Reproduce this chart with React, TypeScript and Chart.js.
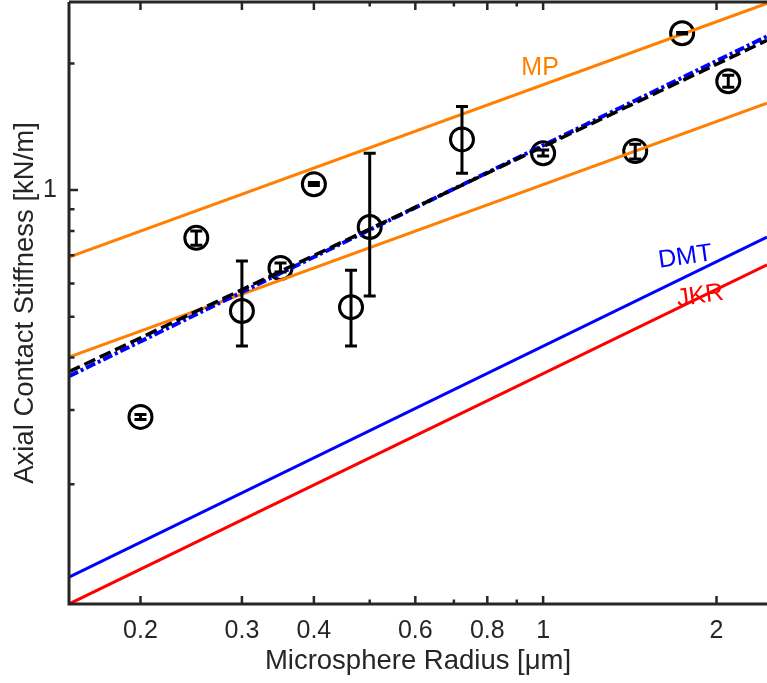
import React, { useEffect, useRef } from 'react';
import { Chart, registerables } from 'chart.js';
Chart.register(...registerables);

// ---- data ----
const radius = [0.2, 0.25, 0.3, 0.35, 0.4, 0.464, 0.5, 0.723, 1.0, 1.445, 1.743, 2.096];
const stiffness = [0.289, 0.77, 0.516, 0.653, 1.033, 0.527, 0.817, 1.32, 1.224, 1.238, 2.36, 1.815];
const errLow = [0.285, 0.74, 0.426, 0.639, 1.025, 0.426, 0.56, 1.097, 1.205, 1.185, 2.35, 1.757];
const errHigh = [0.293, 0.8, 0.678, 0.671, 1.043, 0.645, 1.224, 1.58, 1.245, 1.286, 2.37, 1.876];

const lineX = [0.1503, 2.447];
const mpUpper = [0.693, 2.78];
const mpLower = [0.401, 1.609];
const fitBlack = [0.37, 2.27];
const fitBlue = [0.361, 2.32];
const dmtLine = [0.1203, 0.773];
const jkrLine = [0.1038, 0.664];

const xTicks = [0.2, 0.3, 0.4, 0.5, 0.6, 0.7, 0.8, 0.9, 1, 2];
const xTickLabels = ['0.2', '0.3', '0.4', '', '0.6', '', '0.8', '', '1', '2'];
const yTicks = [0.2, 0.3, 0.4, 0.5, 0.6, 0.7, 0.8, 0.9, 1, 2];
const yTickLabels = ['', '', '', '', '', '', '', '', '1', ''];

const annoText = ['MP', 'DMT', 'JKR'];
const annoX = [0.988, 1.765, 1.873];
const annoY = [1.95, 0.693, 0.56];
const annoColor = ['#FF8000', '#0000FF', '#FF0000'];
const annoRot = [0, -8, -8];

const AXIS = '#262626';
const FONT = "'Liberation Sans', Arial, Helvetica, sans-serif";

const pts = (ys: number[]) => lineX.map((x, i) => ({ x, y: ys[i] }));

const errorBarPlugin = {
  id: 'errorBars',
  afterDatasetsDraw(chart: any) {
    const { ctx, scales } = chart;
    const xs = scales.x, ys = scales.y;
    ctx.save();
    ctx.strokeStyle = '#000';
    ctx.lineWidth = 3;
    ctx.lineCap = 'butt';
    radius.forEach((r, i) => {
      const px = xs.getPixelForValue(r);
      const yl = ys.getPixelForValue(errLow[i]);
      const yh = ys.getPixelForValue(errHigh[i]);
      ctx.beginPath();
      ctx.moveTo(px, yl);
      ctx.lineTo(px, yh);
      ctx.moveTo(px - 6, yl);
      ctx.lineTo(px + 6, yl);
      ctx.moveTo(px - 6, yh);
      ctx.lineTo(px + 6, yh);
      ctx.stroke();
    });
    ctx.restore();
  },
};

const axesPlugin = {
  id: 'matlabAxes',
  afterDraw(chart: any) {
    const { ctx, chartArea, scales } = chart;
    const { left, right, top, bottom } = chartArea;
    ctx.save();
    annoText.forEach((t, i) => {
      const px = scales.x.getPixelForValue(annoX[i]);
      const py = scales.y.getPixelForValue(annoY[i]);
      ctx.save();
      ctx.translate(px, py);
      ctx.rotate((annoRot[i] * Math.PI) / 180);
      ctx.fillStyle = annoColor[i];
      ctx.font = `25px ${FONT}`;
      ctx.textAlign = 'center';
      ctx.textBaseline = 'middle';
      ctx.fillText(t, 0, 0);
      ctx.restore();
    });
    ctx.strokeStyle = AXIS;
    ctx.lineWidth = 3;
    ctx.beginPath();
    ctx.moveTo(left, top);
    ctx.lineTo(left, bottom);
    ctx.lineTo(right, bottom);
    ctx.moveTo(left, top);
    ctx.lineTo(right, top);
    ctx.stroke();
    ctx.lineWidth = 2.5;
    ctx.beginPath();
    xTicks.forEach((v, i) => {
      const px = scales.x.getPixelForValue(v);
      const len = xTickLabels[i] ? 8 : 4.5;
      ctx.moveTo(px, bottom);
      ctx.lineTo(px, bottom - len);
      ctx.moveTo(px, top);
      ctx.lineTo(px, top + len);
    });
    yTicks.forEach((v, i) => {
      const py = scales.y.getPixelForValue(v);
      const len = yTickLabels[i] ? 9 : 5.5;
      ctx.moveTo(left, py);
      ctx.lineTo(left + len, py);
    });
    ctx.stroke();
    ctx.restore();
  },
};

const zeroPad = (s: any) => {
  s.paddingTop = 0;
  s.paddingBottom = 0;
  s.paddingLeft = 0;
  s.paddingRight = 0;
};

export default function App() {
  const ref = useRef<HTMLCanvasElement | null>(null);
  useEffect(() => {
    if (!ref.current) return;
    const lineDs = (data: number[], color: string, dash: number[] = [], w = 3) => ({
      type: 'line' as const,
      data: pts(data),
      borderColor: color,
      backgroundColor: color,
      borderWidth: w,
      borderDash: dash,
      borderCapStyle: 'butt',
      pointRadius: 0,
      showLine: true,
      fill: false,
    });
    const chart = new Chart(ref.current, {
      type: 'scatter',
      data: {
        datasets: [
          lineDs(fitBlack, '#000000', [12, 5], 3.5),
          lineDs(fitBlue, '#0000FF', [10, 3, 3, 3], 4),
          lineDs(mpUpper, '#FF8000'),
          lineDs(mpLower, '#FF8000'),
          lineDs(dmtLine, '#0000FF'),
          lineDs(jkrLine, '#FF0000'),
          {
            type: 'scatter' as const,
            data: radius.map((x, i) => ({ x, y: stiffness[i] })),
            pointStyle: 'circle',
            pointRadius: 11.5,
            pointBorderWidth: 3,
            borderColor: '#000',
            backgroundColor: 'rgba(0,0,0,0)',
            showLine: false,
          } as any,
        ],
      },
      options: {
        responsive: false,
        devicePixelRatio: 1,
        animation: false,
        layout: { autoPadding: false, padding: { top: 2, right: 0, left: 0, bottom: 0 } },
        plugins: { legend: { display: false }, tooltip: { enabled: false } },
        scales: {
          x: {
            type: 'logarithmic',
            min: lineX[0],
            max: lineX[1],
            grid: { display: false, drawTicks: false },
            border: { display: false },
            afterBuildTicks: (s: any) => {
              s.ticks = xTicks.map((v) => ({ value: v }));
            },
            afterFit: (s: any) => {
              s.height = 79;
              zeroPad(s);
            },
            ticks: {
              autoSkip: false,
              maxRotation: 0,
              padding: 12,
              color: AXIS,
              font: { family: FONT, size: 25 },
              callback: (_v: any, i: number) => xTickLabels[i],
            },
            title: {
              display: true,
              text: 'Microsphere Radius [μm]',
              color: AXIS,
              font: { family: FONT, size: 27.5 },
              padding: { top: 0, bottom: 5 },
            },
          },
          y: {
            type: 'logarithmic',
            min: jkrLine[0],
            max: 2.8,
            grid: { display: false, drawTicks: false },
            border: { display: false },
            afterBuildTicks: (s: any) => {
              s.ticks = yTicks.map((v) => ({ value: v }));
            },
            afterFit: (s: any) => {
              s.width = 69;
              zeroPad(s);
            },
            ticks: {
              autoSkip: false,
              padding: 12,
              color: AXIS,
              font: { family: FONT, size: 25 },
              callback: (_v: any, i: number) => yTickLabels[i],
            },
            title: {
              display: true,
              text: 'Axial Contact Stiffness [kN/m]',
              color: AXIS,
              font: { family: FONT, size: 27.5 },
              padding: { top: 9, bottom: 0 },
            },
          },
        },
      },
      plugins: [errorBarPlugin, axesPlugin],
    } as any);
    return () => chart.destroy();
  }, []);
  return (
    <div style={{ position: 'absolute', left: 0, top: 0, width: 767, height: 683, background: '#fff' }}>
      <canvas ref={ref} width={767} height={683} style={{ display: 'block' }} />
    </div>
  );
}
